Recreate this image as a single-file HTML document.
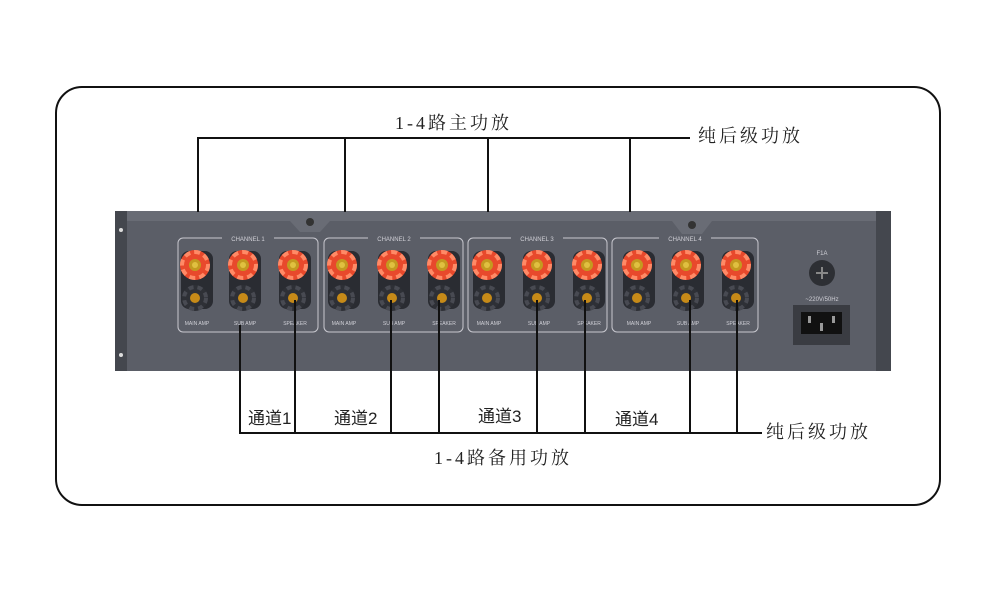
<!DOCTYPE html>
<html><head><meta charset="utf-8"><style>
html,body{margin:0;padding:0;background:#fff}
svg{display:block}
text{font-family:"Liberation Serif","Noto Serif CJK SC","Noto Sans CJK SC",serif}
.s{font-family:"Liberation Sans",sans-serif;fill:#cfcfd6}
.c{font-family:"Liberation Sans","Noto Sans CJK SC",sans-serif}
</style></head><body>
<svg width="1000" height="595" viewBox="0 0 1000 595" xmlns="http://www.w3.org/2000/svg">
<defs>
<g id="red"><circle r="15" fill="#e8492c"/><circle r="13" fill="none" stroke="#ff8a66" stroke-width="4" stroke-dasharray="6 4"/><circle r="6" fill="#c49a20"/><circle r="3" fill="#e0c040"/></g>
<g id="blk"><circle r="13" fill="#2e3036"/><circle r="11" fill="none" stroke="#484a52" stroke-width="4" stroke-dasharray="5 4"/><circle r="5" fill="#c68a18"/></g>
<g id="pair"><rect x="-14" y="-14" width="32" height="58" rx="8" fill="#2a2c32"/><use href="#red"/><use href="#blk" y="33"/></g>
</defs>
<rect x="56" y="87" width="884" height="418" rx="26" fill="#fff" stroke="#111" stroke-width="2"/>
<rect x="115" y="211" width="776" height="160" fill="#5b5e67"/>
<rect x="115" y="211" width="12" height="160" fill="#44474e"/>
<rect x="876" y="211" width="15" height="160" fill="#44474e"/>
<rect x="127" y="211" width="749" height="10" fill="#696c75"/>
<polygon points="290,221 330,221 320,232 300,232" fill="#696c75"/>
<polygon points="672,221 712,221 702,234 682,234" fill="#696c75"/>
<circle cx="310" cy="222" r="4" fill="#333"/><circle cx="692" cy="225" r="4" fill="#333"/>
<circle cx="121" cy="230" r="2" fill="#ddd"/><circle cx="121" cy="355" r="2" fill="#ddd"/>
<g fill="none" stroke="#c8c8cf" stroke-width="1">
<rect x="178" y="238" width="140" height="94" rx="5"/>
<rect x="324" y="238" width="139" height="94" rx="5"/>
<rect x="468" y="238" width="139" height="94" rx="5"/>
<rect x="612" y="238" width="146" height="94" rx="5"/>
</g>
<g font-size="6" class="s" text-anchor="middle">
<rect x="222" y="234" width="52" height="8" fill="#5b5e67"/><text class="s" x="248" y="241">CHANNEL 1</text>
<rect x="368" y="234" width="52" height="8" fill="#5b5e67"/><text class="s" x="394" y="241">CHANNEL 2</text>
<rect x="511" y="234" width="52" height="8" fill="#5b5e67"/><text class="s" x="537" y="241">CHANNEL 3</text>
<rect x="659" y="234" width="52" height="8" fill="#5b5e67"/><text class="s" x="685" y="241">CHANNEL 4</text>
</g>
<use href="#pair" x="195" y="265"/><use href="#pair" x="243" y="265"/><use href="#pair" x="293" y="265"/>
<use href="#pair" x="342" y="265"/><use href="#pair" x="392" y="265"/><use href="#pair" x="442" y="265"/>
<use href="#pair" x="487" y="265"/><use href="#pair" x="537" y="265"/><use href="#pair" x="587" y="265"/>
<use href="#pair" x="637" y="265"/><use href="#pair" x="686" y="265"/><use href="#pair" x="736" y="265"/>
<g font-size="5" class="s" text-anchor="middle">
<text class="s" x="197" y="325">MAIN AMP</text><text class="s" x="245" y="325">SUB AMP</text><text class="s" x="295" y="325">SPEAKER</text>
<text class="s" x="344" y="325">MAIN AMP</text><text class="s" x="394" y="325">SUB AMP</text><text class="s" x="444" y="325">SPEAKER</text>
<text class="s" x="489" y="325">MAIN AMP</text><text class="s" x="539" y="325">SUB AMP</text><text class="s" x="589" y="325">SPEAKER</text>
<text class="s" x="639" y="325">MAIN AMP</text><text class="s" x="688" y="325">SUB AMP</text><text class="s" x="738" y="325">SPEAKER</text>
</g>
<text class="s" x="822" y="255" font-size="6" text-anchor="middle">F1A</text>
<circle cx="822" cy="273" r="13" fill="#2d2f34"/><path d="M816 273h12M822 267v12" stroke="#888" stroke-width="2"/>
<text class="s" x="822" y="301" font-size="6" text-anchor="middle">~220V/50Hz</text>
<rect x="793" y="305" width="57" height="40" fill="#3a3c42"/>
<rect x="801" y="312" width="41" height="22" fill="#111"/>
<rect x="808" y="316" width="3" height="7" fill="#999"/><rect x="832" y="316" width="3" height="7" fill="#999"/><rect x="820" y="323" width="3" height="8" fill="#999"/>
<g stroke="#111" stroke-width="2" fill="none">
<path d="M198 212V138H690M345 138V212M488 138V212M630 138V212"/>
<path d="M240 325V433H762M295 300V433M391 300V433M439 300V433M537 300V433M585 300V433M690 300V433M737 300V433"/>
</g>
<g font-size="18" fill="#222" letter-spacing="3">
<text x="395" y="129">1-4路主功放</text>
<text x="698" y="142">纯后级功放</text>
<text x="766" y="438">纯后级功放</text>
<text x="434" y="464">1-4路备用功放</text>
</g>
<g font-size="17" fill="#222" class="c">
<text class="c" x="248" y="424">通道1</text>
<text class="c" x="334" y="424">通道2</text>
<text class="c" x="478" y="422">通道3</text>
<text class="c" x="615" y="425">通道4</text>
</g>
</svg>
</body></html>
